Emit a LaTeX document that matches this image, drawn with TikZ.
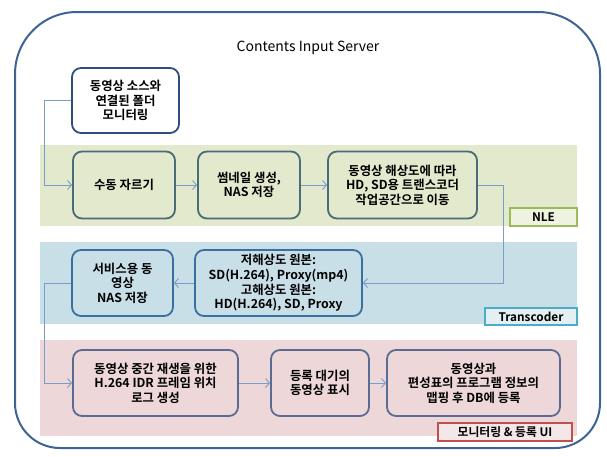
\documentclass[tikz,border=0pt]{standalone}
\usepackage{fontspec}
\setmainfont{Noto Sans CJK KR}[BoldFont={* Bold}]
\usetikzlibrary{arrows.meta}

\definecolor{framecol}{HTML}{3E6494}
\definecolor{srcedge}{HTML}{2E4E7E}
\definecolor{nleedge}{HTML}{4A6B77}
\definecolor{tcedge}{HTML}{3A709F}
\definecolor{uiedge}{HTML}{5B6B93}
\definecolor{conncol}{HTML}{7A9CC8}
\definecolor{nleband}{HTML}{E3E9CC}
\definecolor{tcband}{HTML}{C8DFE7}
\definecolor{uiband}{HTML}{EDD7D9}
\definecolor{nletag}{HTML}{9BBB59}
\definecolor{tctag}{HTML}{4BACC6}
\definecolor{uitag}{HTML}{C0504D}

\begin{document}
\begin{tikzpicture}[x=1pt,y=-1pt,
  every node/.style={font=\fontsize{12.4}{14.6}\selectfont\bfseries,
    align=center, inner sep=0pt},
  stagebox/.style={draw, line width=1.8pt, rounded corners=9pt},
  tagbox/.style={draw, line width=1.8pt, font=\fontsize{11.8}{12}\selectfont\bfseries},
  conn/.style={draw=conncol, line width=0.9pt,
    -{Straight Barb[length=4pt,width=9pt,line width=0.9pt]}}
]
\useasboundingbox (0,0) rectangle (607,456);

% server frame
\draw[framecol, line width=2pt]
  (15,250) [rounded corners=62pt] -- (15,12) -- (600,12) -- (600,250)
  [rounded corners=45pt] -- (600,448) -- (15,448) -- cycle;
\node[font=\fontsize{14}{16}\selectfont] (title) at (308,48) {Contents Input Server};

% process bands
\fill[nleband] (40,145) rectangle (577,226);
\fill[tcband]  (40,242) rectangle (577,324);
\fill[uiband]  (40,340) rectangle (577,436);

% folder monitor
\node[stagebox, draw=srcedge, fill=white, minimum width=107pt, minimum height=65pt]
  (src) at (125.5,100.5) {동영상 소스와\\연결된 폴더\\모니터링};

% NLE stage
\node[stagebox, draw=nleedge, minimum width=102pt, minimum height=67pt]
  (cut) at (124,185) {수동 자르기};
\node[stagebox, draw=nleedge, minimum width=102pt, minimum height=67pt]
  (thumb) at (249,185) {썸네일 생성,\\NAS 저장};
\node[stagebox, draw=nleedge, minimum width=149pt, minimum height=67pt]
  (move) at (402.5,185) {동영상 해상도에 따라\\HD, SD용 트랜스코더\\작업공간으로 이동};
\node[tagbox, draw=nletag, fill=nleband!60!white, minimum width=67pt, minimum height=18pt]
  (nle) at (543.5,217) {NLE};

% Transcoder stage
\node[stagebox, draw=tcedge, minimum width=101pt, minimum height=66pt]
  (svc) at (122.5,283) {서비스용 동\\영상\\NAS 저장};
\node[stagebox, draw=tcedge, minimum width=167pt, minimum height=66pt]
  (low) at (278.5,283) {저해상도 원본:\\SD(H.264), Proxy(mp4)\\고해상도 원본:\\HD(H.264), SD, Proxy};
\node[tagbox, draw=tctag, fill=tcband!50!white, minimum width=92pt, minimum height=17pt]
  (tc) at (531,316.5) {Transcoder};

% monitoring / registration stage
\node[stagebox, draw=uiedge, minimum width=165pt, minimum height=66pt]
  (mid) at (155.5,383) {동영상 중간 재생을 위한\\H.264 IDR 프레임 위치\\로그 생성};
\node[stagebox, draw=uiedge, minimum width=98pt, minimum height=66pt]
  (wait) at (320,383) {등록 대기의\\동영상 표시};
\node[stagebox, draw=uiedge, minimum width=173pt, minimum height=66pt]
  (final) at (473.5,383) {동영상과\\편성표의 프로그램 정보의\\맵핑 후 DB에 등록};
\node[tagbox, draw=uitag, fill=uiband!60!white, minimum width=134pt, minimum height=18pt]
  (ui) at (505,432) {모니터링 \& 등록 UI};

% flow
\draw[conn] (src.west) -- ++(-27,0) |- (cut.west);
\draw[conn] (cut) -- (thumb);
\draw[conn] (thumb) -- (move);
\draw[conn] (move.east) -- ++(26,0) |- (low.east);
\draw[conn] (low) -- (svc);
\draw[conn] (svc.west) -- ++(-27,0) |- (mid.west);
\draw[conn] (mid) -- (wait);
\draw[conn] (wait) -- (final);
\end{tikzpicture}
\end{document}
